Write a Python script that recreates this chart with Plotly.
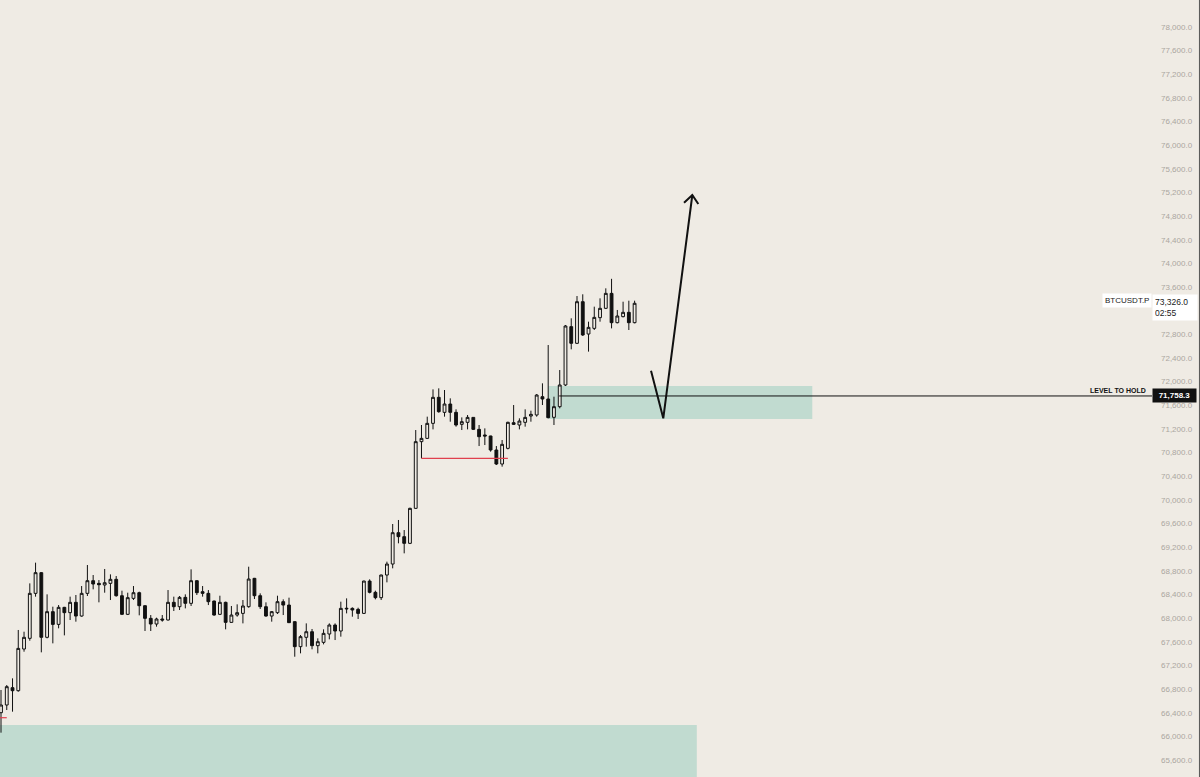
import plotly.graph_objects as go

# ---------------- data ----------------
opens = [66400, 66530, 66823, 66772, 67477, 67658, 68419, 68769, 67675, 68109,
         67894, 68182, 68092, 68267, 68035, 68419, 68633, 68588, 68560, 68588,
         68656, 68379, 68064, 68334, 68430, 68210, 67996, 67900, 67985, 67968,
         68267, 68193, 68351, 68250, 68633, 68447, 68419, 68289, 68064, 68267,
         67928, 68052, 68080, 68193, 68673, 68379, 68193, 68035, 68092, 68278,
         68221, 67940, 67517, 67675, 67770, 67534, 67590, 67731, 67883, 67782,
         68154, 68165, 68148, 68080, 68627, 68436, 68346, 68729, 68915, 69445,
         69378, 69265, 69857, 70985, 71041, 71295, 71735, 71481, 71622, 71481,
         71278, 71312, 71396, 71193, 71098, 71081, 70844, 70607, 70872, 71306,
         71267, 71312, 71419, 71436, 71746, 71707, 71397, 71577, 71944, 72931,
         72649, 73353, 72806, 72902, 73083, 73241, 73494, 72998, 73100, 73173,
         72998]
highs = [66784, 66868, 66981, 67799, 67770, 68588, 68938, 68780, 68402, 68193,
         68221, 68190, 68363, 68391, 68543, 68898, 68729, 68644, 68831, 68740,
         68712, 68464, 68430, 68543, 68447, 68215, 68052, 68007, 68052, 68475,
         68363, 68374, 68402, 68825, 68640, 68543, 68475, 68295, 68379, 68278,
         68205, 68233, 68306, 68870, 68680, 68419, 68267, 68120, 68379, 68317,
         68346, 67945, 67714, 67911, 67816, 67658, 67810, 67911, 67911, 68278,
         68334, 68182, 68176, 68633, 68656, 68464, 68735, 68955, 69592, 69660,
         69490, 69868, 71182, 71267, 71408, 71870, 71887, 71859, 71718, 71532,
         71396, 71436, 71400, 71267, 71210, 71085, 70911, 71013, 71323, 71605,
         71380, 71532, 71509, 71791, 71972, 72620, 71746, 72197, 72959, 73072,
         73449, 73478, 73015, 73269, 73410, 73579, 73740, 73213, 73353, 73370,
         73370]
lows = [66062, 66445, 66417, 66755, 67432, 67618, 68363, 67421, 67658, 67573,
        67827, 67708, 67968, 67940, 68024, 68374, 68487, 68267, 68430, 68306,
        68363, 68052, 68052, 68306, 68047, 67782, 67782, 67855, 67940, 67960,
        68120, 68137, 68165, 68205, 68391, 68363, 68221, 68041, 68052, 67810,
        67923, 68024, 67911, 68176, 68323, 68154, 68024, 67940, 68069, 68052,
        67920, 67347, 67404, 67517, 67472, 67404, 67556, 67641, 67629, 67686,
        68080, 68024, 67985, 68069, 68419, 68317, 68306, 68605, 68842, 69265,
        69096, 69253, 69850, 70703, 71030, 71193, 71475, 71408, 71323, 71239,
        71182, 71193, 71182, 70911, 70928, 70816, 70590, 70562, 70855, 71267,
        71193, 71239, 71323, 71408, 71605, 71380, 71267, 71549, 71927, 72547,
        72637, 72773, 72508, 72874, 73015, 73229, 72902, 72987, 73088, 72874,
        72987]
closes = [66530, 66840, 66772, 67488, 67675, 68419, 68769, 67675, 68109, 67894,
          68182, 68092, 68267, 68035, 68419, 68633, 68577, 68565, 68599, 68656,
          68379, 68064, 68346, 68430, 68210, 67996, 67900, 67985, 67968, 68267,
          68193, 68351, 68250, 68633, 68430, 68419, 68278, 68052, 68267, 67928,
          68052, 68092, 68205, 68661, 68379, 68193, 68035, 68109, 68278, 68221,
          67923, 67517, 67686, 67770, 67534, 67601, 67742, 67883, 67782, 68165,
          68165, 68137, 68080, 68627, 68436, 68346, 68729, 68915, 69445, 69378,
          69265, 69857, 70985, 71041, 71295, 71735, 71492, 71622, 71481, 71267,
          71323, 71396, 71193, 71069, 71081, 70844, 70607, 70940, 71312, 71278,
          71334, 71396, 71447, 71774, 71707, 71391, 71577, 71944, 72942, 72649,
          73353, 72790, 72919, 73088, 73241, 73494, 72998, 73111, 73173, 72998,
          73326]
bars = list(range(len(opens)))

# levels / zones (price)
level_to_hold = 71758.3
last_price = 73326.0
upper_zone = (95.0, 140.85, 71368, 71927)      # x0, x1 (bar index), y0, y1
lower_zone = (-1.0, 120.8, 64000, 66191)
red_line_1 = (73, 88, 70703)                    # from bar, to bar, price
red_line_2 = (-1, 1.0, 66315)
level_line_start = 96.9
arrow_x = [112.85, 114.98, 120.02]
arrow_y = [72186, 71380, 75158]
arrow_head_x = [118.58, 120.02, 121.06]
arrow_head_y = [75028, 75158, 75006]

tick_vals = list(range(65600, 78401, 400))
hidden_ticks = [73200]   # covered by the price label in the reference
tick_text = ["" if v in hidden_ticks else f"{v:,.1f}" for v in tick_vals]

BG = "#EFEBE4"
ZONE = "#C1DBD0"
FONT = "Liberation Sans, Arial, sans-serif"

fig = go.Figure()
fig.add_trace(go.Candlestick(
    x=bars, open=opens, high=highs, low=lows, close=closes,
    increasing=dict(line=dict(color="#111111", width=1), fillcolor=BG),
    decreasing=dict(line=dict(color="#111111", width=1), fillcolor="#111111"),
    whiskerwidth=0, showlegend=False, hoverinfo="skip",
))
fig.add_trace(go.Scatter(x=arrow_x, y=arrow_y, mode="lines",
                         line=dict(color="#111111", width=2), showlegend=False,
                         hoverinfo="skip"))
fig.add_trace(go.Scatter(x=arrow_head_x, y=arrow_head_y, mode="lines",
                         line=dict(color="#111111", width=2), showlegend=False,
                         hoverinfo="skip"))

shapes = [
    dict(type="rect", xref="x", yref="y", x0=upper_zone[0], x1=upper_zone[1],
         y0=upper_zone[2], y1=upper_zone[3], fillcolor=ZONE, line=dict(width=0),
         layer="below"),
    dict(type="rect", xref="x", yref="y", x0=lower_zone[0], x1=lower_zone[1],
         y0=lower_zone[2], y1=lower_zone[3], fillcolor=ZONE, line=dict(width=0),
         layer="below"),
    dict(type="line", xref="x", yref="y", x0=red_line_1[0], x1=red_line_1[1],
         y0=red_line_1[2], y1=red_line_1[2], line=dict(color="#E0404E", width=1.2)),
    dict(type="line", xref="x", yref="y", x0=red_line_2[0], x1=red_line_2[1],
         y0=red_line_2[2], y1=red_line_2[2], line=dict(color="#E0404E", width=1.2)),
    dict(type="line", xref="x", yref="y", x0=level_line_start, x1=200,
         y0=level_to_hold, y1=level_to_hold, line=dict(color="#111111", width=1)),
    dict(type="line", xref="paper", yref="paper", x0=1.0412, x1=1.0412, y0=0, y1=1,
         line=dict(color="#555555", width=1)),
]

annotations = [
    dict(xref="paper", yref="y", x=1, y=last_price, xanchor="right", yanchor="middle",
         text="BTCUSDT.P", showarrow=False, bgcolor="#FFFFFF", borderpad=2,
         font=dict(family=FONT, size=8, color="#222222"), yshift=3),
    dict(xref="paper", yref="y", x=1, y=last_price, xanchor="left", yanchor="top",
         text="73,326.0<br>02:55", align="left", showarrow=False, bgcolor="#FFFFFF",
         width=40, borderpad=2, font=dict(family=FONT, size=8.5, color="#222222"),
         yshift=9),
    dict(xref="paper", yref="y", x=1, y=level_to_hold, xanchor="left", yanchor="middle",
         text="<b>71,758.3</b>", showarrow=False, bgcolor="#111111", borderpad=2,
         width=39, font=dict(family=FONT, size=8, color="#FFFFFF"), xshift=0),
    dict(xref="paper", yref="y", x=1, y=level_to_hold, xanchor="right", yanchor="bottom",
         text="<b>LEVEL TO HOLD</b>", showarrow=False,
         font=dict(family=FONT, size=7, color="#111111"), xshift=-4, yshift=0),
]

x_lo = -1 / 5.76
fig.update_layout(
    width=1200, height=777,
    margin=dict(l=0, r=48, t=0, b=0),
    paper_bgcolor=BG, plot_bgcolor=BG,
    shapes=shapes, annotations=annotations,
    showlegend=False,
    xaxis=dict(range=[x_lo, x_lo + 1152 / 5.76], visible=False,
               rangeslider=dict(visible=False), fixedrange=True),
    yaxis=dict(range=[65312, 78457], side="right", showgrid=False, zeroline=False,
               tickvals=tick_vals, ticktext=tick_text, ticks="",
               ticklabelstandoff=8,
               tickfont=dict(family=FONT, size=8, color="#ABA6A0"),
               showline=False, fixedrange=True),
)

fig.write_html(
    "out.html",
    config={"displayModeBar": False},
    post_script="document.body.style.margin='0';document.body.style.overflow='hidden';",
)
